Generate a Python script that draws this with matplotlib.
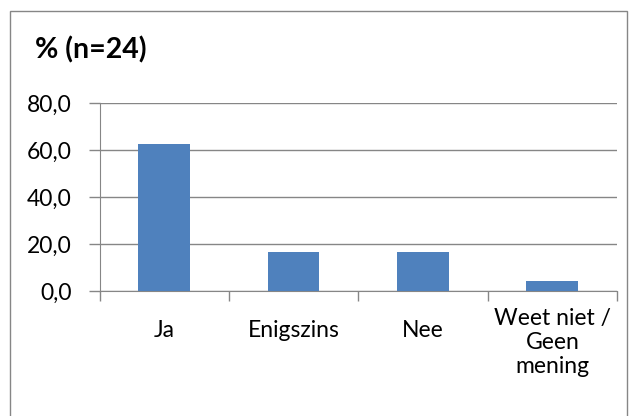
import matplotlib
matplotlib.use('Agg')
import matplotlib.pyplot as plt
from matplotlib.patches import Rectangle
from matplotlib.transforms import ScaledTranslation

categories = ['Ja', 'Enigszins', 'Nee', 'Weet niet /\nGeen\nmening']
values = [62.5, 16.7, 16.7, 4.2]
yticks = [0, 20, 40, 60, 80]
title = '% (n=24)'

plt.rcParams['font.family'] = ['Lato', 'DejaVu Sans']

fig = plt.figure(figsize=(6.35, 4.16), dpi=100)
ax = fig.add_axes([0.1567, 0.3005, 0.815, 0.4519])

x = range(len(categories))
ax.bar(x, values, width=0.4, color='#4F81BD', zorder=3)

ax.set_xlim(-0.5, len(categories) - 0.5)
ax.set_ylim(0, 80)
ax.set_yticks(yticks)
ax.set_yticklabels([f'{v:.1f}'.replace('.', ',') for v in yticks], fontsize=16.5)
ax.grid(axis='y', color='#868686', linewidth=1, zorder=0)

# ticks on category boundaries, labels centred
ax.set_xticks([i - 0.5 for i in range(len(categories) + 1)])
ax.set_xticklabels([])
ax.set_xticks(list(x), minor=True)
labels = ax.set_xticklabels(categories, minor=True, fontsize=16.5, linespacing=1.2)
ax.tick_params(axis='x', which='minor', length=0, pad=21)
ax.tick_params(axis='x', which='major', length=7, color='#868686', width=1)
ax.tick_params(axis='y', length=8, color='#868686', width=1, pad=12)

# multi-line label sits higher, like the original
labels[-1].set_transform(labels[-1].get_transform() + ScaledTranslation(0, 9 / 72, fig.dpi_scale_trans))

for side in ['top', 'right']:
    ax.spines[side].set_visible(False)
for side in ['left', 'bottom']:
    ax.spines[side].set_color('#868686')

fig.text(35 / 635, 1 - 50 / 416, title, fontsize=20.5, fontweight='bold', va='center', ha='left')

fig.patches.append(Rectangle((10 / 635, -0.05), 617 / 635, 1.05 - 11 / 416,
                             transform=fig.transFigure, fill=False,
                             edgecolor='#868686', linewidth=1))

plt.savefig('out.png', dpi=100)
